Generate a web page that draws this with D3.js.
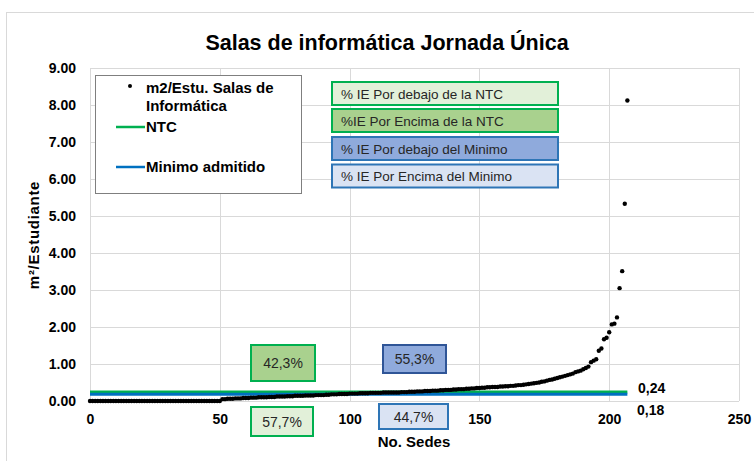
<!DOCTYPE html>
<html>
<head>
<meta charset="utf-8">
<script src="https://cdn.jsdelivr.net/npm/d3@7/dist/d3.min.js"></script>
<style>
  html, body { margin: 0; padding: 0; background: #fff; }
  svg { display: block; font-family: "Liberation Sans", Arial, sans-serif; }
</style>
</head>
<body>
<svg id="chart" width="754" height="461"></svg>
<script>
// m²/student for each site (sede), sorted ascending
const m2PorEstudiante = [
  0,0,0,0,0,0,0,0,0,0, 0,0,0,0,0,0,0,0,0,0, 0,0,0,0,0,0,0,0,0,0,
  0,0,0,0,0,0,0,0,0,0, 0,0,0,0,0,0,0,0,0,0, 0,
  0.05,0.05,0.06,0.06,0.06,0.07,0.07,0.07,0.08,0.08,
  0.08,0.09,0.09,0.09,0.10,0.10,0.10,0.10,0.11,0.11,
  0.11,0.12,0.12,0.12,0.12,0.13,0.13,0.13,0.14,0.14,
  0.14,0.14,0.15,0.15,0.15,0.15,0.16,0.16,0.16,0.16,0.17,0.17,
  0.18,0.18,0.18,0.19,0.19,0.19,0.19,0.20,
  0.20,0.20,0.20,0.21,0.21,0.21,0.21,0.22,0.22,0.22,
  0.22,0.22,0.23,0.23,0.23,0.23,0.23,0.23,0.23,
  0.24,0.24,0.24,0.25,0.25,0.25,0.26,0.26,0.26,0.27,0.27,
  0.27,0.28,0.28,0.28,0.29,0.29,0.30,0.30,0.30,0.31,
  0.31,0.32,0.32,0.32,0.33,0.33,0.34,0.34,0.35,0.35,
  0.36,0.36,0.37,0.37,0.38,0.38,0.38,0.39,0.39,0.40,
  0.40,0.41,0.41,0.42,0.43,0.43,0.44,0.45,0.46,0.47,
  0.48,0.49,0.50,0.52,0.53,0.55,0.57,0.58,0.60,0.62,
  0.64,0.66,0.68,0.70,0.72,0.74,0.78,0.80,0.82,0.86,
  0.89,0.93,1.05,1.09,1.13,1.36,1.42,1.67,1.71,1.86,
  2.07,2.09,2.26,3.05,3.51,5.33,8.12
];

// Reference thresholds
const umbralNTC = 0.24;
const umbralMinimo = 0.18;

const xTicks = [0, 50, 100, 150, 200, 250];
const yTicks = [0, 1, 2, 3, 4, 5, 6, 7, 8, 9];

const legendItems = ["m2/Estu. Salas de|Informática", "NTC", "Minimo admitido"];
const categoryLabels = [
  "% IE Por debajo de la NTC",
  "%IE Por Encima de la NTC",
  "% IE Por debajo del Minimo",
  "% IE Por Encima del Minimo"
];

const titulo = "Salas de informática Jornada Única";
const ejeX = "No. Sedes";
const ejeY = "m²/Estudiante";

const svg = d3.select("#chart");
const font = "'Liberation Sans', Arial, sans-serif";

const plot = { left: 90, right: 739, top: 68, bottom: 401 };
const x = d3.scaleLinear().domain([0, 250]).range([plot.left, plot.right]);
const y = d3.scaleLinear().domain([0, 9]).range([plot.bottom, plot.top]);

const green = "#00B050", blue = "#0070C0", grid = "#D9D9D9";

// Outer chart frame
svg.append("rect").attr("x", 6.5).attr("y", 12.5).attr("width", 800).attr("height", 500)
  .attr("fill", "#fff").attr("stroke", "#D9D9D9").attr("stroke-width", 1);

// Title
svg.append("text").attr("x", 387).attr("y", 50).attr("text-anchor", "middle")
  .attr("font-size", 21.5).attr("font-weight", "bold").attr("fill", "#000").text(titulo);

// Gridlines
const g = svg.append("g");
g.selectAll("line.h").data(yTicks).join("line")
  .attr("x1", plot.left).attr("x2", plot.right)
  .attr("y1", d => Math.round(y(d)) + 0.5).attr("y2", d => Math.round(y(d)) + 0.5)
  .attr("stroke", grid).attr("stroke-width", 1);
g.selectAll("line.v").data(xTicks).join("line")
  .attr("x1", d => Math.round(x(d)) + 0.5).attr("x2", d => Math.round(x(d)) + 0.5)
  .attr("y1", plot.top).attr("y2", plot.bottom)
  .attr("stroke", grid).attr("stroke-width", 1);

// Axis tick labels through d3 axes
const yAxis = svg.append("g").attr("transform", `translate(${plot.left},0)`)
  .call(d3.axisLeft(y).tickValues(yTicks).tickFormat(d3.format(".2f")).tickSize(0).tickPadding(14));
yAxis.select(".domain").remove();
yAxis.selectAll("text").attr("font-size", 14).attr("font-weight", "bold")
  .attr("font-family", font).attr("fill", "#000");

const xAxis = svg.append("g").attr("transform", `translate(0,${plot.bottom})`)
  .call(d3.axisBottom(x).tickValues(xTicks).tickFormat(d3.format("d")).tickSize(0).tickPadding(13));
xAxis.select(".domain").remove();
xAxis.selectAll("text").attr("font-size", 14).attr("font-weight", "bold")
  .attr("font-family", font).attr("fill", "#000");

// Axis titles
svg.append("text").attr("x", 414).attr("y", 447).attr("text-anchor", "middle")
  .attr("font-size", 15).attr("font-weight", "bold").text(ejeX);
svg.append("text").attr("transform", "translate(39,235) rotate(-90)").attr("text-anchor", "middle")
  .attr("font-size", 15).attr("font-weight", "bold").attr("letter-spacing", 0.7).text(ejeY);

// Threshold lines across all sites
const lastIdx = m2PorEstudiante.length - 1;
const refLines = [
  { v: umbralNTC, color: green },
  { v: umbralMinimo, color: blue }
];
svg.selectAll("line.ref").data(refLines).join("line")
  .attr("x1", x(0)).attr("x2", x(lastIdx))
  .attr("y1", d => y(d.v)).attr("y2", d => y(d.v))
  .attr("stroke", d => d.color).attr("stroke-width", 3);

const fmtComa = v => d3.format(".2f")(v).replace(".", ",");
svg.append("text").attr("x", 638).attr("y", y(umbralNTC) + 0.5)
  .attr("font-size", 14).attr("font-weight", "bold").text(fmtComa(umbralNTC));
svg.append("text").attr("x", 637).attr("y", y(umbralMinimo) + 21)
  .attr("font-size", 14).attr("font-weight", "bold").text(fmtComa(umbralMinimo));

// Data points
svg.append("g").selectAll("circle").data(m2PorEstudiante).join("circle")
  .attr("cx", (d, i) => x(i)).attr("cy", d => y(d)).attr("r", 2.2).attr("fill", "#000");

// Legend
const lg = svg.append("g");
lg.append("rect").attr("x", 95.5).attr("y", 75.5).attr("width", 206).attr("height", 118)
  .attr("fill", "#fff").attr("stroke", "#7F7F7F").attr("stroke-width", 1);
lg.append("circle").attr("cx", 130).attr("cy", 86).attr("r", 2).attr("fill", "#000");
const l0 = legendItems[0].split("|");
lg.append("text").attr("x", 146).attr("y", 92.5).attr("font-size", 15).attr("font-weight", "bold").text(l0[0]);
lg.append("text").attr("x", 146).attr("y", 110.5).attr("font-size", 15).attr("font-weight", "bold").text(l0[1]);
lg.append("line").attr("x1", 116).attr("x2", 145).attr("y1", 127).attr("y2", 127)
  .attr("stroke", green).attr("stroke-width", 2.5);
lg.append("text").attr("x", 146).attr("y", 132).attr("font-size", 15).attr("font-weight", "bold").text(legendItems[1]);
lg.append("line").attr("x1", 116).attr("x2", 145).attr("y1", 167).attr("y2", 167)
  .attr("stroke", blue).attr("stroke-width", 2.5);
lg.append("text").attr("x", 146).attr("y", 172).attr("font-size", 15).attr("font-weight", "bold").text(legendItems[2]);

// Category key boxes
const catStyles = [
  { fill: "#E2F0D9", stroke: "#00B050", y: 82 },
  { fill: "#A9D18E", stroke: "#00B050", y: 109 },
  { fill: "#8FAADC", stroke: "#2E75B6", y: 137 },
  { fill: "#DAE3F3", stroke: "#2E75B6", y: 164.5 }
];
const cg = svg.append("g").selectAll("g").data(categoryLabels).join("g");
cg.append("rect").attr("x", 332).attr("y", (d, i) => catStyles[i].y)
  .attr("width", 226).attr("height", 23)
  .attr("fill", (d, i) => catStyles[i].fill).attr("stroke", (d, i) => catStyles[i].stroke).attr("stroke-width", 2);
cg.append("text").attr("x", 341).attr("y", (d, i) => catStyles[i].y + 16.5)
  .attr("font-size", 13.5).attr("fill", "#262626").text(d => d);

// Share of sites below / above each threshold
const n = m2PorEstudiante.length;
const bajoNTC = m2PorEstudiante.filter(v => v < umbralNTC).length / n;
const bajoMin = m2PorEstudiante.filter(v => v < umbralMinimo).length / n;
const fmtPct = p => d3.format(".1f")(p * 100).replace(".", ",") + "%";
const pctBoxes = [
  { p: 1 - bajoNTC, x: 251, y: 345, w: 64, h: 36, fill: "#A9D18E", stroke: "#00B050" },
  { p: bajoNTC, x: 251, y: 407, w: 62, h: 29, fill: "#E2F0D9", stroke: "#00B050" },
  { p: 1 - bajoMin, x: 383, y: 345, w: 63, h: 28, fill: "#8FAADC", stroke: "#2F5597" },
  { p: bajoMin, x: 379, y: 404, w: 69, h: 25, fill: "#DAE3F3", stroke: "#2E75B6" }
];
const pg = svg.append("g").selectAll("g").data(pctBoxes).join("g");
pg.append("rect").attr("x", d => d.x).attr("y", d => d.y).attr("width", d => d.w).attr("height", d => d.h)
  .attr("fill", d => d.fill).attr("stroke", d => d.stroke).attr("stroke-width", 2);
pg.append("text").attr("x", d => d.x + d.w / 2).attr("y", d => d.y + d.h / 2 + 5)
  .attr("text-anchor", "middle").attr("font-size", 14).attr("fill", "#262626").text(d => fmtPct(d.p));
</script>
</body>
</html>
